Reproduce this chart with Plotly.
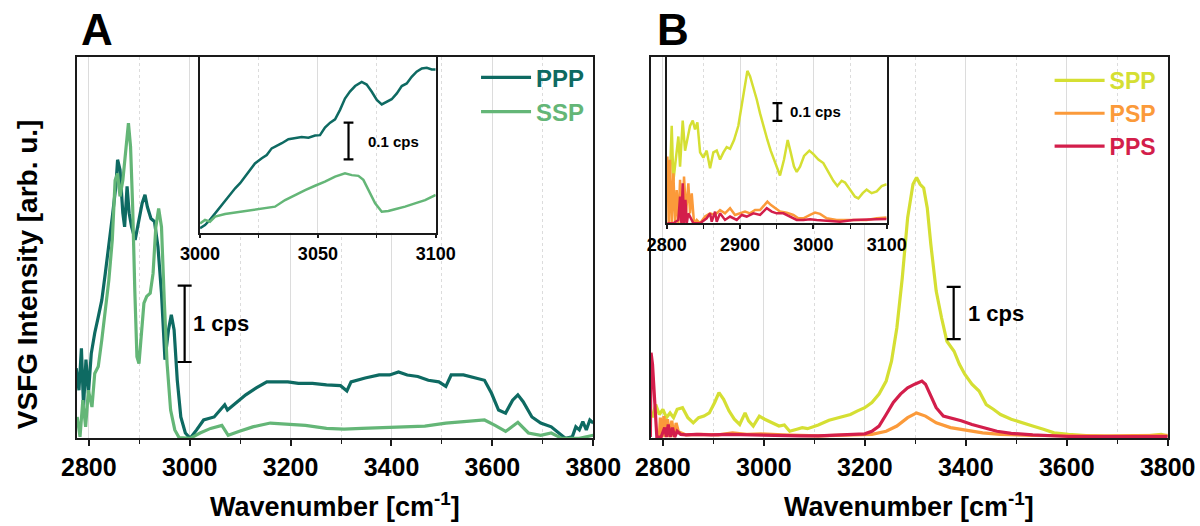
import plotly.graph_objects as go

FONT = "Liberation Sans"

# ---- panel A, main spectra (wavenumber in cm-1, intensity in cps)
ppp_wn = [2775, 2780.5, 2785.4, 2789.6, 2794.4, 2799.3, 2804.9, 2811.8, 2818.8, 2825.8, 2832.7, 2839.7,
          2846.6, 2853.6, 2857.1, 2861.9, 2867.5, 2871, 2875.9, 2880, 2884.9, 2891.9, 2898.8, 2905.8,
          2911.4, 2916.2, 2923.2, 2930.2, 2937.1, 2944.1, 2951, 2958, 2963.6, 2969.1, 2975.4, 2982.4,
          2991.4, 3001, 3013.7, 3027.6, 3048.5, 3062.4, 3069.4, 3074.9, 3090.2, 3111.1, 3132, 3152.9,
          3173.8, 3194.6, 3215.5, 3243.4, 3271.2, 3299, 3311.6, 3319.9, 3347.8, 3375.6, 3396.5, 3413.9,
          3431.3, 3452.2, 3473, 3493.9, 3507.8, 3518.3, 3542.6, 3563.5, 3584.4, 3598.3, 3612.2, 3626.2,
          3640.1, 3650.5, 3661, 3678.4, 3695.8, 3716.7, 3730.6, 3744.5, 3758.4, 3765.4, 3772.3, 3779.3,
          3786.2, 3793.2, 3800]
ppp_cps = [0.92, 0.63, 1.18, 0.41, 1.03, 0.59, 1.11, 1.38, 1.59, 1.81, 2.16, 2.51,
           2.90, 3.30, 3.65, 3.52, 2.95, 2.77, 3.30, 2.95, 2.77, 2.60, 2.86, 3.08,
           3.19, 3.03, 2.88, 2.84, 2.51, 1.90, 1.03, 1.42, 1.62, 1.42, 0.76, 0.28,
           0.07, 0.0, 0.11, 0.24, 0.28, 0.39, 0.44, 0.37, 0.46, 0.57, 0.66, 0.74,
           0.74, 0.74, 0.72, 0.72, 0.70, 0.69, 0.62, 0.74, 0.79, 0.83, 0.83, 0.87,
           0.83, 0.81, 0.76, 0.74, 0.68, 0.83, 0.83, 0.79, 0.76, 0.59, 0.37, 0.33,
           0.50, 0.57, 0.48, 0.28, 0.20, 0.15, 0.07, 0.0, 0.02, 0.15, 0.11, 0.22,
           0.11, 0.24, 0.20]

ssp_wn = [2777, 2782.6, 2788.2, 2793.7, 2799.3, 2806.3, 2811.8, 2818.8, 2825.8, 2832.7, 2839.7, 2846.6,
          2852.2, 2857.1, 2861.9, 2867.5, 2874.5, 2878.6, 2882.8, 2887, 2891.2, 2895.4, 2899.5, 2903.7,
          2909.3, 2914.8, 2921.8, 2927.4, 2932.9, 2938.5, 2944.1, 2949.6, 2955.2, 2962.2, 2970.5, 2978.9,
          3001, 3020.6, 3041.5, 3063.8, 3076.3, 3097.2, 3125, 3159.8, 3194.6, 3229.4, 3271.2, 3306,
          3340.8, 3382.6, 3424.3, 3466.1, 3507.8, 3549.6, 3584.4, 3605.3, 3626.2, 3650.5, 3671.4, 3695.8,
          3716.7, 3737.5, 3772.3, 3800]
ssp_cps = [0.28, 0.02, 0.50, 0.15, 0.63, 0.41, 0.85, 0.94, 1.29, 1.72, 2.07, 2.60,
           3.38, 3.47, 3.17, 3.38, 3.91, 4.13, 3.82, 3.03, 1.94, 1.07, 0.98, 1.29,
           1.77, 1.86, 1.90, 2.16, 2.77, 3.01, 2.77, 1.81, 0.98, 0.37, 0.11, 0.01,
           0.0, 0.07, 0.13, 0.17, 0.04, 0.09, 0.15, 0.20, 0.19, 0.17, 0.13, 0.12,
           0.13, 0.14, 0.15, 0.16, 0.20, 0.22, 0.24, 0.17, 0.09, 0.21, 0.07, 0.04,
           0.07, 0.0, 0.0, 0.04]

# ---- panel A, inset 3000-3100
ppp_in_wn = [3000, 3002.1, 3004.2, 3006.4, 3008.5, 3010.6, 3012.7, 3014.9, 3017, 3019.1, 3021.2, 3023.3,
             3026.2, 3028.3, 3030.4, 3032.5, 3034.7, 3037.5, 3040.3, 3043.1, 3046, 3048.8, 3050.9, 3053,
             3055.2, 3057.3, 3059.4, 3061.5, 3063.6, 3065.8, 3068.6, 3070.7, 3072.8, 3075, 3077.1, 3079.2,
             3081.3, 3083.5, 3085.6, 3087.7, 3089.8, 3091.9, 3094.1, 3096.2, 3098.3, 3100]
ppp_in_cps = [0.012, 0.021, 0.035, 0.053, 0.071, 0.085, 0.103, 0.121, 0.135, 0.153, 0.171, 0.189,
              0.203, 0.212, 0.230, 0.236, 0.244, 0.255, 0.259, 0.261, 0.259, 0.265, 0.266, 0.287,
              0.300, 0.309, 0.335, 0.366, 0.385, 0.400, 0.411, 0.404, 0.385, 0.362, 0.350, 0.357,
              0.364, 0.380, 0.400, 0.407, 0.425, 0.439, 0.448, 0.450, 0.445, 0.445]
ssp_in_wn = [3000, 3002.1, 3004.2, 3006.4, 3010.6, 3014.9, 3019.1, 3023.3, 3027.6, 3031.8, 3036.1, 3040.3,
             3044.6, 3048.8, 3053, 3057.3, 3061.5, 3064.4, 3067.2, 3069.3, 3071.4, 3074.3, 3077.1, 3079.9,
             3082.7, 3087, 3091.2, 3095.5, 3100]
ssp_in_cps = [0.025, 0.035, 0.030, 0.044, 0.051, 0.055, 0.060, 0.064, 0.068, 0.071, 0.089, 0.103,
              0.116, 0.128, 0.139, 0.153, 0.162, 0.157, 0.155, 0.144, 0.116, 0.080, 0.057, 0.059,
              0.064, 0.071, 0.080, 0.089, 0.103]

# ---- panel B, main spectra
spp_wn = [2778.8, 2785.8, 2792.9, 2800, 2807.1, 2814.2, 2821.2, 2828.3, 2838.9, 2849.5, 2860.2, 2870.8,
          2881.4, 2892, 2902.6, 2911.1, 2920.3, 2930.9, 2941.5, 2952.2, 2962.8, 2969.8, 2979, 2991.1,
          3001.7, 3015.8, 3030, 3040.6, 3051.2, 3065.4, 3076, 3086.6, 3107.8, 3129.1, 3150.3, 3171.5,
          3185.7, 3199.9, 3214, 3228.2, 3242.3, 3252.9, 3263.5, 3274.2, 3284.8, 3295.4, 3302.5, 3309.5,
          3316.6, 3323.7, 3330.8, 3341.4, 3352, 3362.6, 3376.8, 3387.4, 3398, 3412.2, 3426.3, 3440.5,
          3454.6, 3468.8, 3490, 3511.2, 3532.5, 3553.7, 3574.9, 3603.2, 3645.7, 3688.2, 3744.8, 3787.2,
          3800]
spp_cps = [0.37, 0.62, 0.43, 0.53, 0.37, 0.46, 0.37, 0.53, 0.56, 0.37, 0.27, 0.37,
           0.40, 0.46, 0.66, 0.85, 0.72, 0.50, 0.34, 0.24, 0.46, 0.31, 0.21, 0.40,
           0.34, 0.27, 0.21, 0.23, 0.11, 0.15, 0.18, 0.16, 0.23, 0.32, 0.37, 0.43,
           0.50, 0.56, 0.66, 0.82, 1.07, 1.45, 2.09, 3.04, 4.19, 4.83, 4.96, 4.83,
           4.76, 4.38, 3.68, 2.79, 2.28, 1.83, 1.64, 1.39, 1.20, 1.01, 0.88, 0.62,
           0.53, 0.43, 0.34, 0.27, 0.21, 0.15, 0.08, 0.05, 0.02, 0.01, 0.01, 0.05,
           0.02]

psp_wn = [2792.9, 2795, 2798.6, 2802.1, 2805.7, 2809.2, 2813.4, 2817.7, 2821.9, 2826.2, 2830.4, 2835.4,
          2846, 2874.3, 2909.7, 2938, 2966.3, 2994.6, 3037.1, 3107.8, 3178.6, 3214, 3242.3, 3263.5,
          3284.8, 3302.5, 3320.2, 3341.4, 3369.7, 3398, 3433.4, 3468.8, 3532.5, 3674, 3800]
psp_cps = [0.0, 0.37, 0.0, 0.40, 0.0, 0.34, 0.0, 0.31, 0.0, 0.27, 0.11, 0.08,
           0.04, 0.05, 0.04, 0.08, 0.05, 0.06, 0.04, 0.02, 0.04, 0.05, 0.11, 0.21,
           0.37, 0.46, 0.40, 0.27, 0.18, 0.13, 0.08, 0.05, 0.03, 0.02, 0.03]

pps_wn = [2775.2, 2776.6, 2779.5, 2782.3, 2785.1, 2788, 2796.5, 2803.5, 2807.1, 2810.6, 2814.9, 2819.1,
          2823.4, 2828.3, 2835.4, 2846, 2867.2, 2895.5, 2930.9, 2966.3, 3001.7, 3037.1, 3072.5, 3107.8,
          3143.2, 3178.6, 3199.9, 3214, 3228.2, 3242.3, 3256.5, 3270.6, 3284.8, 3298.9, 3313.1, 3320.2,
          3330.8, 3341.4, 3355.5, 3369.7, 3390.9, 3412.2, 3433.4, 3461.7, 3490, 3532.5, 3603.2, 3674,
          3744.8, 3800]
pps_cps = [0.0, 1.61, 1.39, 0.88, 0.37, 0.0, 0.0, 0.18, 0.0, 0.24, 0.0, 0.18,
           0.0, 0.11, 0.05, 0.04, 0.05, 0.04, 0.05, 0.04, 0.03, 0.02, 0.02, 0.02,
           0.03, 0.05, 0.06, 0.11, 0.21, 0.43, 0.66, 0.82, 0.94, 1.01, 1.07, 1.01,
           0.78, 0.56, 0.40, 0.37, 0.31, 0.24, 0.18, 0.11, 0.07, 0.04, 0.01, 0.01,
           0.01, 0.01]

# ---- panel B, inset 2800-3100
spp_in_wn = [2804.5, 2806.8, 2809.1, 2811.4, 2813.6, 2815.9, 2818.2, 2821.8, 2825, 2828.2, 2831.8, 2835.5,
             2838.6, 2841.8, 2845.5, 2850, 2854.5, 2859.1, 2863.6, 2868.2, 2872.7, 2877.3, 2881.8, 2886.4,
             2891.8, 2897.7, 2902.3, 2906.8, 2910, 2913.6, 2918.2, 2922.7, 2927.3, 2932.7, 2937.3, 2941.8,
             2947.7, 2954.5, 2960, 2965, 2969.1, 2973.6, 2977.3, 2981.8, 2987.3, 2994.5, 3000, 3006.8,
             3013.6, 3020.5, 3027.3, 3032.7, 3038.6, 3043.2, 3050, 3056.8, 3061.4, 3067.3, 3072.7, 3079.5,
             3086.4, 3093.2, 3100]
spp_in_cps = [0.28, 0.55, 0.24, 0.32, 0.38, 0.49, 0.32, 0.58, 0.41, 0.47, 0.55, 0.58,
              0.53, 0.57, 0.40, 0.37, 0.41, 0.31, 0.40, 0.41, 0.36, 0.40, 0.43, 0.42,
              0.47, 0.55, 0.66, 0.79, 0.86, 0.83, 0.77, 0.70, 0.62, 0.53, 0.47, 0.41,
              0.34, 0.27, 0.36, 0.47, 0.40, 0.32, 0.29, 0.32, 0.38, 0.41, 0.39, 0.36,
              0.34, 0.29, 0.24, 0.21, 0.24, 0.23, 0.19, 0.15, 0.14, 0.17, 0.19, 0.17,
              0.18, 0.21, 0.22]

psp_in_wn = [2800.9, 2802.7, 2804.5, 2806.8, 2809.1, 2811.4, 2813.6, 2815.9, 2818.2, 2820.9, 2823.6, 2826.4,
             2829.5, 2831.8, 2834.1, 2837.3, 2840.9, 2845.5, 2852.3, 2859.1, 2865.9, 2872.7, 2879.5, 2886.4,
             2893.2, 2900, 2906.8, 2913.6, 2920.5, 2927.3, 2932.7, 2937.3, 2941.8, 2947.7, 2954.5, 2963.6,
             2972.7, 2979.5, 2986.4, 2995.5, 3002.3, 3009.1, 3018.2, 3031.8, 3045.5, 3059.1, 3072.7, 3086.4,
             3100]
psp_in_cps = [0.377, 0.0, 0.358, 0.0, 0.282, 0.0, 0.188, 0.0, 0.245, 0.0, 0.264, 0.056,
              0.226, 0.056, 0.169, 0.0, 0.019, 0.0, 0.038, 0.056, 0.047, 0.075, 0.056, 0.085,
              0.047, 0.056, 0.066, 0.056, 0.075, 0.075, 0.104, 0.122, 0.104, 0.085, 0.066, 0.060,
              0.047, 0.028, 0.028, 0.047, 0.060, 0.053, 0.028, 0.019, 0.019, 0.023, 0.019, 0.028,
              0.032]

pps_in_wn = [2800.9, 2809.1, 2815.9, 2818.2, 2820, 2821.8, 2823.6, 2825.5, 2827.3, 2829.5, 2836.4, 2845.5,
             2854.5, 2859.1, 2861.4, 2865.9, 2868.2, 2872.7, 2879.5, 2886.4, 2895.5, 2902.3, 2909.1, 2918.2,
             2927.3, 2936.4, 2943.2, 2950, 2959.1, 2968.2, 2977.3, 2986.4, 2995.5, 3004.5, 3018.2, 3036.4,
             3054.5, 3072.7, 3086.4, 3100]
pps_in_cps = [0.0, 0.0, 0.019, 0.151, 0.0, 0.226, 0.0, 0.132, 0.0, 0.056, 0.0, 0.0,
              0.028, 0.056, 0.009, 0.066, 0.009, 0.056, 0.019, 0.038, 0.019, 0.047, 0.038, 0.056,
              0.047, 0.085, 0.066, 0.056, 0.056, 0.038, 0.019, 0.019, 0.023, 0.019, 0.015, 0.009,
              0.019, 0.023, 0.023, 0.024]

COLORS = {"PPP": "#0e6a62", "SSP": "#64b677", "SPP": "#d5df33", "PSP": "#fb9a3a", "PPS": "#d31e4b"}


def spectrum(x, y, name, xa, ya, width=3.2, legend=None):
    return go.Scatter(
        x=x, y=y, mode="lines", xaxis=xa, yaxis=ya,
        name='<span style="color:%s">%s</span>' % (COLORS[name], name),
        line=dict(color=COLORS[name], width=width),
        showlegend=legend is not None, legend=legend or "legend",
        hoverinfo="skip")


def scalebar(x, y0, y1, xa, ya, cap):
    return go.Scatter(
        x=[x, x], y=[y0, y1], mode="lines+markers", xaxis=xa, yaxis=ya,
        line=dict(color="black", width=2.2),
        marker=dict(symbol="line-ew", size=cap, line=dict(color="black", width=2.2)),
        showlegend=False, hoverinfo="skip")


fig = go.Figure()
fig.add_trace(spectrum(ppp_wn, ppp_cps, "PPP", "x", "y", legend="legend"))
fig.add_trace(spectrum(ssp_wn, ssp_cps, "SSP", "x", "y", legend="legend"))
fig.add_trace(scalebar(2990, 1.0, 2.0, "x", "y", 10))

fig.add_trace(spectrum(spp_wn, spp_cps, "SPP", "x2", "y2", legend="legend2"))
fig.add_trace(spectrum(psp_wn, psp_cps, "PSP", "x2", "y2", legend="legend2"))
fig.add_trace(spectrum(pps_wn, pps_cps, "PPS", "x2", "y2", legend="legend2"))
fig.add_trace(scalebar(3376, 1.87, 2.87, "x2", "y2", 10))

fig.add_trace(spectrum(ppp_in_wn, ppp_in_cps, "PPP", "x3", "y3", width=2.5))
fig.add_trace(spectrum(ssp_in_wn, ssp_in_cps, "SSP", "x3", "y3", width=2.5))
fig.add_trace(scalebar(3063, 0.2, 0.3, "x3", "y3", 7))

fig.add_trace(spectrum(spp_in_wn, spp_in_cps, "SPP", "x4", "y4", width=2.5))
fig.add_trace(spectrum(psp_in_wn, psp_in_cps, "PSP", "x4", "y4", width=2.5))
fig.add_trace(spectrum(pps_in_wn, pps_in_cps, "PPS", "x4", "y4", width=2.5))
fig.add_trace(scalebar(2951, 0.578, 0.678, "x4", "y4", 7))

GRID = "#dcdcdc"
AXC = "#1a1a1a"


def xaxis(domain, anchor, rng, dtick, minor, size, ticklen):
    return dict(domain=domain, anchor=anchor, range=rng, tick0=rng[0] if rng[0] % dtick == 0 else 2800,
                dtick=dtick, ticks="outside", ticklen=ticklen, tickwidth=1.5, tickcolor=AXC,
                showline=True, linecolor=AXC, linewidth=1.5, mirror=True, zeroline=False,
                showgrid=True, gridcolor=GRID, gridwidth=1, automargin=False,
                minor=dict(dtick=minor, ticks="outside", ticklen=4, tickwidth=1.2, tickcolor=AXC,
                           showgrid=True, gridcolor=GRID, griddash="dot", gridwidth=1),
                tickfont=dict(family=FONT, size=size, color="black", weight="bold"))


def yaxis(domain, anchor, rng):
    return dict(domain=domain, anchor=anchor, range=rng, showticklabels=False, ticks="",
                showgrid=False, zeroline=False, showline=True, linecolor=AXC, linewidth=1.5,
                mirror=True, automargin=False)


def note(text, x, y, xref, yref, size, xanchor="left", yanchor="middle"):
    return dict(text=text, x=x, y=y, xref=xref, yref=yref, xanchor=xanchor, yanchor=yanchor,
                showarrow=False, font=dict(family=FONT, size=size, color="black", weight="bold"))


fig.update_layout(
    width=1200, height=526, autosize=False,
    margin=dict(l=0, r=0, t=0, b=0, autoexpand=False),
    paper_bgcolor="white", plot_bgcolor="white",
    font=dict(family=FONT, color="black"),
    xaxis=xaxis([0.0639, 0.4944], "y", [2776, 3800], 200, 100, 25, 6),
    yaxis=yaxis([0.1667, 0.8922], "x", [0, 5.0]),
    xaxis2=xaxis([0.5423, 0.9731], "y2", [2776, 3800], 200, 100, 25, 6),
    yaxis2=yaxis([0.1667, 0.8922], "x2", [-0.025, 7.27]),
    xaxis3=xaxis([0.1667, 0.3631], "y3", [3000, 3100], 50, 25, 18, 4),
    yaxis3=yaxis([0.5576, 0.8922], "x3", [0, 0.48]),
    xaxis4=xaxis([0.5556, 0.7389], "y4", [2800, 3100], 100, 50, 18, 4),
    yaxis4=yaxis([0.5755, 0.8922], "x4", [0, 0.94]),
    legend=dict(x=0.4917, y=0.895, xanchor="right", yanchor="top", bgcolor="rgba(0,0,0,0)",
                font=dict(family=FONT, size=24, weight="bold"), itemwidth=50, tracegroupgap=0),
    legend2=dict(x=0.968, y=0.888, xanchor="right", yanchor="top", bgcolor="rgba(0,0,0,0)",
                 font=dict(family=FONT, size=23, weight="bold"), itemwidth=50, tracegroupgap=0),
    annotations=[
        note("A", 0.066, 0.943, "paper", "paper", 44),
        note("B", 0.546, 0.943, "paper", "paper", 44),
        note("1 cps", 3003, 1.5, "x", "y", 22),
        note("1 cps", 3400, 2.37, "x2", "y2", 22),
        note("0.1 cps", 3070.4, 0.25, "x3", "y3", 15),
        note("0.1 cps", 2965.4, 0.628, "x4", "y4", 15),
        note("Wavenumber [cm<sup>-1</sup>]", 0.2792, 0.004, "paper", "paper", 27, "center", "bottom"),
        note("Wavenumber [cm<sup>-1</sup>]", 0.7577, 0.004, "paper", "paper", 27, "center", "bottom"),
        dict(text="VSFG Intensity [arb. u.]", x=0.023, y=0.478, xref="paper", yref="paper",
             textangle=-90, showarrow=False, xanchor="center", yanchor="middle",
             font=dict(family=FONT, size=28, color="black", weight="bold")),
    ],
)

fig.write_html("out.html", config={"displayModeBar": False},
               post_script="document.body.style.margin='0px';")
